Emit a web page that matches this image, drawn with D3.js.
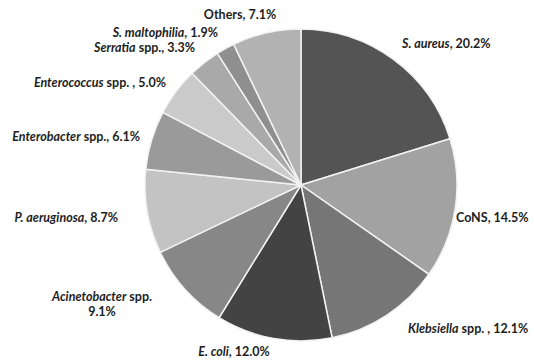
<!DOCTYPE html>
<meta charset="utf-8">
<style>
body { margin: 0; background: #fff; }
text {
  font-family: Lato, "Open Sans", sans-serif;
  font-size: 12.5px;
  font-weight: bold;
  fill: #1e1e1e;
}
.slices path {
  stroke: #f2f2f2;
  stroke-width: 1.5px;
}
</style>
<svg width="534" height="361"></svg>
<script src="https://d3js.org/d3.v7.min.js"></script>
<script>

// pathogen share of isolates, clockwise from 12 o'clock
var names = ["S. aureus", "CoNS", "Klebsiella", "E. coli", "Acinetobacter", "P. aeruginosa",
             "Enterobacter", "Enterococcus", "Serratia", "S. maltophilia", "Others"];
var italic = [true, false, true, true, true, true, true, true, true, true, false];
var suffix = ["", "", " spp. ", "", " spp.", "", " spp.", " spp. ", " spp.", "", ""];
var shares = [20.2, 14.5, 12.1, 12.0, 9.1, 8.7, 6.1, 5.0, 3.3, 1.9, 7.1];

var fills = ["#545454", "#a2a2a2", "#767676", "#434343", "#878787", "#c3c3c3",
             "#9a9a9a", "#cacaca", "#a9a9a9", "#8f8f8f", "#b2b2b2"];

// where each label sits (x, baseline y, anchor) - hand placed like the original
var labelAt = [
  [402, 48, "start"], [456, 222, "start"], [408, 333, "start"], [234, 356, "middle"],
  [102, 301, "middle"], [118, 222, "end"], [140, 141, "end"], [166, 87, "end"],
  [195, 52, "end"], [218, 37, "end"], [240, 19, "middle"]
];

var svg = d3.select("svg"),
    cx = 301, cy = 185, radius = 156;

var data = names.map(function(n, i) {
  return { name: n, italic: italic[i], suffix: suffix[i], value: shares[i], i: i };
});

var pie = d3.pie()
    .sort(null)
    .value(function(d) { return d.value; });

var arc = d3.arc()
    .innerRadius(0)
    .outerRadius(radius);

var g = svg.append("g")
    .attr("class", "slices")
    .attr("transform", "translate(" + cx + "," + cy + ")");

g.selectAll("path")
  .data(pie(data))
  .enter().append("path")
    .attr("d", arc)
    .attr("fill", function(d) { return fills[d.data.i]; });

var labels = svg.append("g")
  .selectAll("text")
  .data(data)
  .enter().append("text")
    .attr("x", function(d) { return labelAt[d.i][0]; })
    .attr("y", function(d) { return labelAt[d.i][1]; })
    .attr("text-anchor", function(d) { return labelAt[d.i][2]; });

labels.each(function(d) {
  var t = d3.select(this);
  var pct = d.value.toFixed(1) + "%";
  t.append("tspan")
    .style("font-style", d.italic ? "italic" : "normal")
    .text(d.name);
  if (d.name == "Acinetobacter") {
    // this one wraps onto two lines
    t.append("tspan").text(d.suffix);
    t.append("tspan")
      .attr("x", labelAt[d.i][0])
      .attr("dy", 15)
      .text(pct);
  } else {
    t.append("tspan").text(d.suffix + ", " + pct);
  }
});

</script>
